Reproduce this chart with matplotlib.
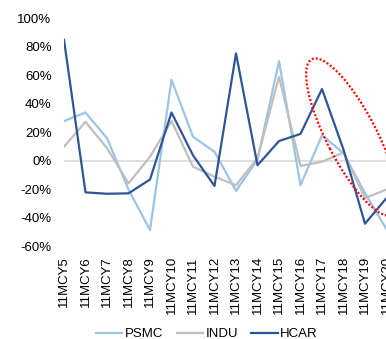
import numpy as np
import matplotlib
matplotlib.use("Agg")
import matplotlib.pyplot as plt
from matplotlib.patches import Ellipse
from matplotlib.transforms import IdentityTransform

plt.rcParams['font.family'] = ['Liberation Sans', 'DejaVu Sans']

# categories and series (in %)
cats = ['11MCY' + str(i) for i in range(5, 21)]
psmc = [28, 34, 16, -20, -48.5, 57, 17, 6.5, -21, 1, 70, -17, 18, 5.5, -22.5, -48]
indu = [10, 27.5, 9, -15.7, 3, 28, -4, -11, -17, 2, 59, -3.5, -0.5, 6, -26, -20]
hcar = [85, -22, -23, -22.7, -13, 34, 4, -17.5, 75.5, -3, 14, 19, 50.5, 8, -44, -26]
yticks = [-60, -40, -20, 0, 20, 40, 60, 80, 100]

fig = plt.figure(figsize=(3.86, 3.39), dpi=100)
ax = fig.add_axes([64 / 386, 92.5 / 339, 322.5 / 386, 0.6726])

x = np.arange(len(cats))
ax.axhline(0, color='#d9d9d9', lw=1.2, zorder=1)
ax.plot(x, psmc, color='#9dc3e6', lw=1.6, label='PSMC', zorder=2)
ax.plot(x, indu, color='#bfbfbf', lw=1.6, label='INDU', zorder=2)
ax.plot(x, hcar, color='#2f5597', lw=1.6, label='HCAR', zorder=3)

ax.set_xlim(0, len(cats) - 1)
ax.set_ylim(-60, 100)
ax.set_yticks(yticks)
ax.set_yticklabels([f'{v}%' for v in yticks])
ax.set_xticks(x)
ax.set_xticklabels(cats, rotation=90)
ax.tick_params(axis='both', length=0, labelsize=9.5, colors='#000000')
ax.tick_params(axis='y', pad=9)
ax.tick_params(axis='x', pad=7)
for s in ax.spines.values():
    s.set_visible(False)

# red dotted ellipse annotation (pixel coordinates)
ell = Ellipse((352, 202), width=175, height=50, angle=-62.7,
              transform=IdentityTransform(), fill=False, edgecolor='#ff0000',
              lw=1.6, linestyle=(0, (0.9, 0.9)), clip_on=False, zorder=5)
fig.add_artist(ell)

fig.legend(loc='center', bbox_to_anchor=(207 / 386, 5 / 339), ncol=3,
           frameon=False, fontsize=9.5, handlelength=2.0, handletextpad=0.2,
           columnspacing=1.0, borderpad=0)

fig.savefig('out.png', dpi=100)
